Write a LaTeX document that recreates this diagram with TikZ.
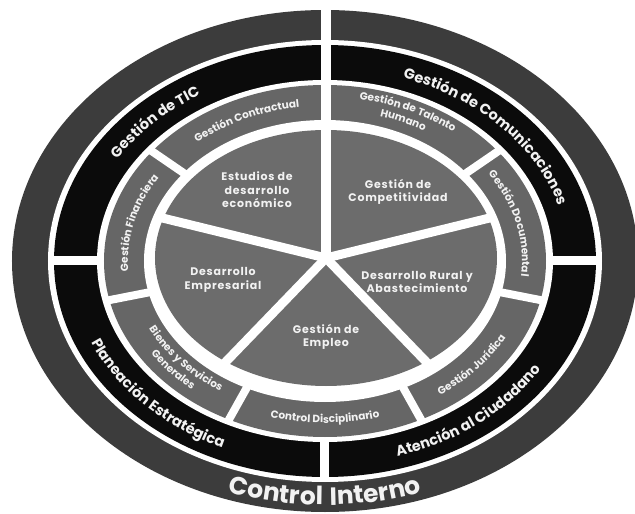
\documentclass[tikz,border=0pt]{standalone}
\usepackage{fontspec}
\setmainfont{Poppins}
\newfontfamily\poppinsancha{Poppins}[LetterSpace=7]
\usetikzlibrary{decorations.text}

\definecolor{anillo}{HTML}{3C3C3C}
\definecolor{negro}{HTML}{0B0B0B}
\definecolor{medio}{HTML}{666666}
\definecolor{torta}{HTML}{6C6C6C}
\definecolor{letra}{HTML}{F2F2F2}

\newcommand{\fexterno}{\color{letra}\poppinsancha\bfseries\fontsize{25}{28}\selectfont}
\newcommand{\fanillo}{\color{letra}\bfseries\fontsize{14.5}{17}\selectfont}
\newcommand{\fmedio}{\color{letra}\bfseries\fontsize{10.5}{12}\selectfont}

\begin{document}
\begin{tikzpicture}[x=1pt, y=1pt,
        rotulo/.style={text=letra, font=\poppinsancha\bfseries\fontsize{11}{13.5}\selectfont, align=center},
        corte/.style={draw=white, line width=9pt},
        curva/.style={decorate, decoration={text along path, text align=center, text={#1}}}
    ]
    \useasboundingbox[fill=white] (-325,-253) rectangle (310,261);

    % anillos
    \fill[anillo] (0,0) ellipse[x radius=313pt, y radius=251pt];
    \fill[white] (0,0) ellipse[x radius=277pt, y radius=221pt];
    \fill[negro] (0,0) ellipse[x radius=271pt, y radius=216pt];
    \fill[white] (0,0) ellipse[x radius=228pt, y radius=181pt];
    \fill[medio] (0,0) ellipse[x radius=221pt, y radius=176pt];
    \fill[white] (0,0) ellipse[x radius=181pt, y radius=141pt];
    \fill[torta] (1,3) ellipse[x radius=171pt, y radius=128pt];

    % cortes blancos
    \draw[corte, line width=10pt] (1,3) -- (1,265);
    \foreach \a in {0,180,270}
        \draw[corte] (\a:223pt and 177pt) -- (\a:276pt and 220pt);
    \foreach \k in {1,...,6}
        \draw[corte, line width=8pt] ({90-\k*360/7}:176pt and 137pt) -- ({90-\k*360/7}:226pt and 180pt);
    \begin{scope}[shift={(1,3)}]
        \foreach \a in {18,162,234,306}
            \draw[corte] (0,0) -- (\a:178pt and 134pt);
        \fill[white] (0,0) circle[radius=5pt];
    \end{scope}

    % anillo exterior
    \path[curva={|\fexterno|Control Interno}] (-150:304pt and 244pt) arc[start angle=-150, end angle=-30, x radius=304pt, y radius=244pt];

    % anillo negro
    \path[curva={|\fanillo|Gestión de TIC}] (188:244pt and 193pt) arc[start angle=188, end angle=88, x radius=244pt, y radius=193pt];
    \path[curva={|\fanillo|Gestión de Comunicaciones}] (100:244pt and 193pt) arc[start angle=100, end angle=-19, x radius=244pt, y radius=193pt];
    \path[curva={|\fanillo|Planeación Estratégica}] (172:255pt and 204pt) arc[start angle=172, end angle=272, x radius=255pt, y radius=204pt];
    \path[curva={|\fanillo|Atención al Ciudadano}] (-100:255pt and 204pt) arc[start angle=-100, end angle=0, x radius=255pt, y radius=204pt];

    % anillo medio
    \path[curva={|\fmedio|Gestión Contractual}] (161:197pt and 155pt) arc[start angle=161, end angle=71, x radius=197pt, y radius=155pt];
    \path[curva={|\fmedio|Gestión de Talento}] (109:207pt and 164pt) arc[start angle=109, end angle=19, x radius=207pt, y radius=164pt];
    \path[curva={|\fmedio|Humano}] (109:194pt and 151pt) arc[start angle=109, end angle=19, x radius=194pt, y radius=151pt];
    \path[curva={|\fmedio|Gestión Documental}] (58:197pt and 155pt) arc[start angle=58, end angle=-32, x radius=197pt, y radius=155pt];
    \path[curva={|\fmedio|Gestión Jurídica}] (-84:205pt and 162pt) arc[start angle=-84, end angle=6, x radius=205pt, y radius=162pt];
    \path[curva={|\fmedio|Control Disciplinario}] (-135:205pt and 162pt) arc[start angle=-135, end angle=-45, x radius=205pt, y radius=162pt];
    \path[curva={|\fmedio|Bienes y Servicios}] (-186:196pt and 154pt) arc[start angle=-186, end angle=-96, x radius=196pt, y radius=154pt];
    \path[curva={|\fmedio|Generales}] (-186:209pt and 167pt) arc[start angle=-186, end angle=-96, x radius=209pt, y radius=167pt];
    \path[curva={|\fmedio|Gestión Financiera}] (212:197pt and 155pt) arc[start angle=212, end angle=122, x radius=197pt, y radius=155pt];

    % torta central
    \node[rotulo] (estudios) at (-68,71) {Estudios de\\desarrollo\\económico};
    \node[rotulo] (competitividad) at (73,69) {Gestión de\\Competitividad};
    \node[rotulo] (rural) at (92,-21) {Desarrollo Rural y\\Abastecimiento};
    \node[rotulo] (empleo) at (1,-76) {Gestión de\\Empleo};
    \node[rotulo] (empresarial) at (-102,-19) {Desarrollo\\Empresarial};

\end{tikzpicture}
\end{document}
